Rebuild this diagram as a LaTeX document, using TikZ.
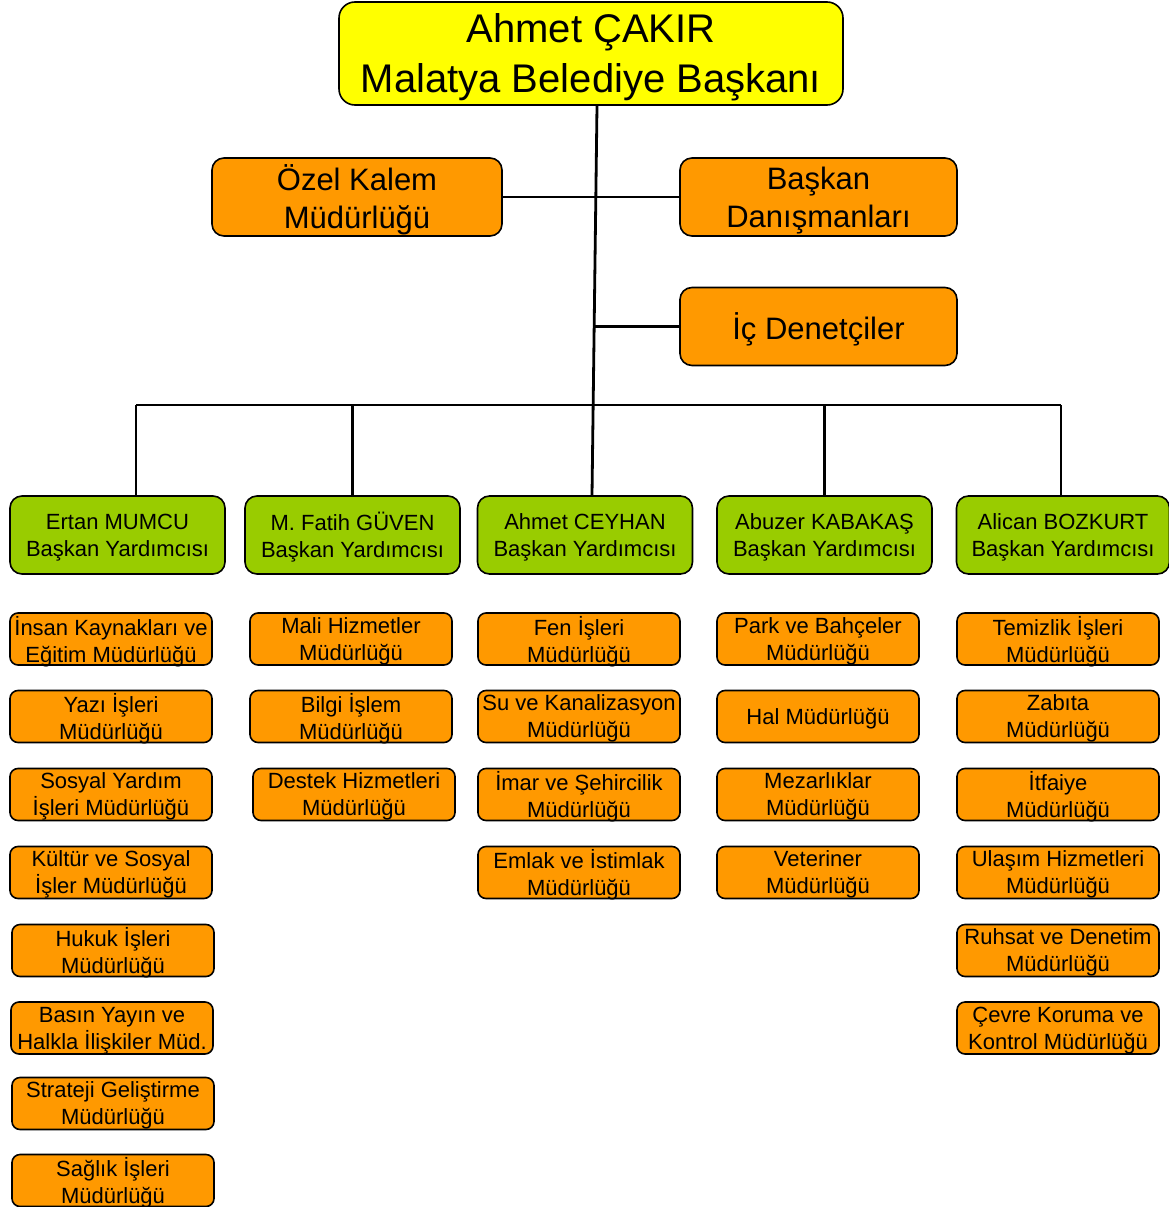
\documentclass[tikz,border=0pt]{standalone}
\usepackage{fontspec}
\setmainfont{Liberation Sans}
\usepackage{tikz}
\definecolor{baskanfill}{RGB}{255,255,0}
\definecolor{mudurfill}{RGB}{255,153,0}
\definecolor{yardfill}{RGB}{153,204,0}

\begin{document}
\begin{tikzpicture}[x=1pt,y=-1pt,
	box/.style = {draw, line width=1.6pt, align=center, inner sep=1pt, text depth=0pt},
	baskan/.style = {box, fill=baskanfill, rounded corners=16pt, minimum width=504pt, minimum height=103pt, font=\fontsize{40}{50}\selectfont},
	kalem/.style = {box, fill=mudurfill, rounded corners=12pt, minimum height=78pt, font=\fontsize{31}{38}\selectfont},
	yard/.style = {box, fill=yardfill, rounded corners=12pt, minimum width=215pt, minimum height=78pt, font=\fontsize{22}{27}\selectfont},
	mud/.style = {box, fill=mudurfill, rounded corners=8pt, minimum width=202pt, minimum height=52pt, font=\fontsize{22}{27}\selectfont},
	link/.style = {line width=2.8pt}]
	\useasboundingbox (0,0) rectangle (1169,1207);
	
	%draws the mayor and the offices under him
	\node[baskan] (baskan) at (591,53.5) {Ahmet ÇAKIR\\Malatya Belediye Başkanı};
	\node[kalem, minimum width=290pt] (ozel) at (357,197) {Özel Kalem\\Müdürlüğü};
	\node[kalem, minimum width=277pt] (danisman) at (818.5,197) {Başkan\\Danışmanları};
	\node[kalem, minimum width=277pt] (denetci) at (818.5,326.5) {İç Denetçiler};
	
	%the deputy mayors
	\node[yard] (yrd1) at (117.5,535) {Ertan MUMCU\\Başkan Yardımcısı};
	\node[yard] (yrd2) at (352.5,535) {M. Fatih GÜVEN\\Başkan Yardımcısı};
	\node[yard] (yrd3) at (585,535) {Ahmet CEYHAN\\Başkan Yardımcısı};
	\node[yard] (yrd4) at (824.5,535) {Abuzer KABAKAŞ\\Başkan Yardımcısı};
	\node[yard, minimum width=213pt] (yrd5) at (1063,535) {Alican BOZKURT\\Başkan Yardımcısı};
	
	%first column
	\node[mud] (m11) at (111,639) {İnsan Kaynakları ve\\Eğitim Müdürlüğü};
	\node[mud] (m12) at (111,716.5) {Yazı İşleri\\Müdürlüğü};
	\node[mud] (m13) at (111,794.5) {Sosyal Yardım\\İşleri Müdürlüğü};
	\node[mud] (m14) at (111,872.5) {Kültür ve Sosyal\\İşler Müdürlüğü};
	\node[mud] (m15) at (113,950.5) {Hukuk İşleri\\Müdürlüğü};
	\node[mud] (m16) at (112,1028) {Basın Yayın ve\\Halkla İlişkiler Müd.};
	\node[mud] (m17) at (113,1103.5) {Strateji Geliştirme\\Müdürlüğü};
	\node[mud] (m18) at (113,1180.5) {Sağlık İşleri\\Müdürlüğü};
	
	%second column
	\node[mud] (m21) at (351,639) {Mali Hizmetler\\Müdürlüğü};
	\node[mud] (m22) at (351,716.5) {Bilgi İşlem\\Müdürlüğü};
	\node[mud] (m23) at (354,794.5) {Destek Hizmetleri\\Müdürlüğü};
	
	%third column
	\node[mud] (m31) at (579,639) {Fen İşleri\\Müdürlüğü};
	\node[mud] (m32) at (579,716.5) {Su ve Kanalizasyon\\Müdürlüğü};
	\node[mud] (m33) at (579,794.5) {İmar ve Şehircilik\\Müdürlüğü};
	\node[mud] (m34) at (579,872.5) {Emlak ve İstimlak\\Müdürlüğü};
	
	%fourth column
	\node[mud] (m41) at (818,639) {Park ve Bahçeler\\Müdürlüğü};
	\node[mud] (m42) at (818,716.5) {Hal Müdürlüğü};
	\node[mud] (m43) at (818,794.5) {Mezarlıklar\\Müdürlüğü};
	\node[mud] (m44) at (818,872.5) {Veteriner\\Müdürlüğü};
	
	%fifth column
	\node[mud] (m51) at (1058,639) {Temizlik İşleri\\Müdürlüğü};
	\node[mud] (m52) at (1058,716.5) {Zabıta\\Müdürlüğü};
	\node[mud] (m53) at (1058,794.5) {İtfaiye\\Müdürlüğü};
	\node[mud] (m54) at (1058,872.5) {Ulaşım Hizmetleri\\Müdürlüğü};
	\node[mud] (m55) at (1058,950.5) {Ruhsat ve Denetim\\Müdürlüğü};
	\node[mud] (m56) at (1058,1028) {Çevre Koruma ve\\Kontrol Müdürlüğü};
	
	%the connecting lines
	\coordinate (icjoint) at (593,326.5);
	\coordinate (busl) at (136,405);
	\coordinate (busr) at (1061,405);
	\draw[link] ([xshift=6pt]baskan.south) -- ([xshift=7pt]yrd3.north);
	\draw[link] (ozel.east) -- (danisman.west);
	\draw[link] (denetci.west) -- (icjoint);
	\draw[link] (busl) -- (busr);
	\draw[link] (busl) -- ([xshift=18.5pt]yrd1.north);
	\draw[link] (yrd2.north |- busl) -- (yrd2.north);
	\draw[link] (yrd4.north |- busl) -- (yrd4.north);
	\draw[link] (busr) -- (busr |- yrd5.north);
	
\end{tikzpicture}
\end{document}
